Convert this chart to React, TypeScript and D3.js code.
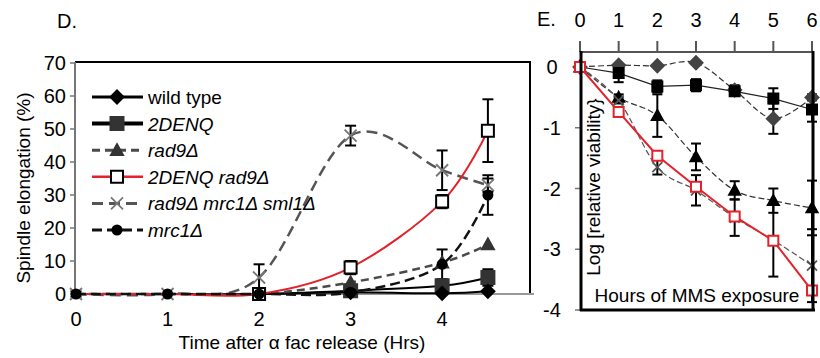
import { useEffect, useRef } from "react";
import * as d3 from "d3";

const W = 820;
const H = 358;
const FONT = "'Liberation Sans', Arial, sans-serif";

// Panel D: spindle elongation (%) after alpha factor release
const hoursD = [0, 1, 2, 3, 4, 4.5];
const wildTypeD = [0, 0, 0, 0.5, 0.2, 0.8];
const wildTypeErrD = [0, 0, 0, 0, 0, 0];
const denqD = [0, 0, 0, 1, 2.5, 5];
const denqErrD = [0, 0, 0, 0.5, 1.5, 2.5];
const rad9D = [0, 0, 0, 3.5, 9.5, 15];
const rad9ErrD = [0, 0, 0, 0, 0, 0];
const denqRad9D = [0, 0, 0, 8, 28, 49.5];
const denqRad9ErrD = [0, 0, 0, 2, 2, 9.5];
const tripleD = [0, 0, 5, 48, 37.5, 33];
const tripleErrD = [0.8, 0, 4, 3, 6, 2];
const mrc1D = [0, 0, 0, 0.5, 9, 30];
const mrc1ErrD = [0, 0, 0, 0.5, 4.5, 6];
const yTicksD = [0, 10, 20, 30, 40, 50, 60, 70];
const xTicksD = [0, 1, 2, 3, 4];

// Panel E: log relative viability vs hours of MMS exposure
const hoursE = [0, 1, 2, 3, 4, 5, 6];
const diamondE = [0, 0.03, 0.02, 0.07, -0.38, -0.85, -0.5];
const diamondErrE = [0, 0, 0, 0, 0.08, 0.25, 0.05];
const squareE = [0, -0.1, -0.32, -0.3, -0.4, -0.52, -0.7];
const squareErrE = [0, 0.15, 0.1, 0.1, 0.05, 0.17, 0.2];
const triangleE = [0, -0.5, -0.8, -1.48, -2.03, -2.2, -2.32];
const triangleErrE = [0, 0.05, 0.35, 0.22, 0.15, 0.2, 0.45];
const crossE = [0, -0.55, -1.65, -2.03, -2.48, -2.85, -3.27];
const crossErrE = [0, 0.05, 0.12, 0.25, 0.3, 0.6, 0.6];
const redE = [0, -0.74, -1.46, -1.97, -2.46, -2.86, -3.68];
const redErrE = [0, 0, 0, 0, 0, 0, 0];
const yTicksE = [0, -1, -2, -3, -4];
const xTicksE = [0, 1, 2, 3, 4, 5, 6];

type Marker = "diamond" | "square" | "triangle" | "circle" | "x";

type Series = {
  label: string;
  italic: boolean;
  values: number[];
  err: number[];
  color: string;
  width: number;
  legendWidth: number;
  dash: string | null;
  marker: Marker;
  fill: string;
  stroke: string;
  markWidth: number;
  size: number;
  smooth: boolean;
  markFrom: number;
};

const markerPath = (kind: Marker, s: number) => {
  switch (kind) {
    case "diamond":
      return `M0,${-s}L${s},0L0,${s}L${-s},0Z`;
    case "square":
      return `M${-s},${-s}H${s}V${s}H${-s}Z`;
    case "triangle":
      return `M0,${-s}L${s},${s * 0.8}L${-s},${s * 0.8}Z`;
    case "circle":
      return d3.symbol(d3.symbolCircle, Math.PI * s * s)() ?? "";
    case "x":
      return `M${-s},${-s}L${s},${s}M${-s},${s}L${s},${-s}`;
  }
};

// listed in drawing order (bottom first); legend order is separate
const seriesD: Series[] = [
  { label: "2DENQ", italic: true, values: denqD, err: denqErrD, color: "#000", width: 2, legendWidth: 4, dash: null, marker: "square", fill: "#333", stroke: "#333", markWidth: 2, size: 6.5, smooth: true, markFrom: 3 },
  { label: "wild type", italic: false, values: wildTypeD, err: wildTypeErrD, color: "#000", width: 2, legendWidth: 3, dash: null, marker: "diamond", fill: "#000", stroke: "#000", markWidth: 2, size: 6.5, smooth: true, markFrom: 3 },
  { label: "rad9Δ", italic: true, values: rad9D, err: rad9ErrD, color: "#4a4a4a", width: 2.5, legendWidth: 3, dash: "8 5", marker: "triangle", fill: "#333", stroke: "#333", markWidth: 2, size: 6, smooth: true, markFrom: 3 },
  { label: "rad9Δ mrc1Δ sml1Δ", italic: true, values: tripleD, err: tripleErrD, color: "#555", width: 2.5, legendWidth: 3, dash: "11 6", marker: "x", fill: "none", stroke: "#777", markWidth: 1.8, size: 6, smooth: true, markFrom: 0 },
  { label: "2DENQ rad9Δ", italic: true, values: denqRad9D, err: denqRad9ErrD, color: "#e3222b", width: 2, legendWidth: 2.5, dash: null, marker: "square", fill: "#fff", stroke: "#000", markWidth: 2, size: 6, smooth: true, markFrom: 2 },
  { label: "mrc1Δ", italic: true, values: mrc1D, err: mrc1ErrD, color: "#111", width: 2.5, legendWidth: 3, dash: "10 5", marker: "circle", fill: "#000", stroke: "#000", markWidth: 2, size: 4.5, smooth: true, markFrom: 0 },
];

const legendOrder = ["wild type", "2DENQ", "rad9Δ", "2DENQ rad9Δ", "rad9Δ mrc1Δ sml1Δ", "mrc1Δ"];

const seriesE: Series[] = [
  { label: "diamond", italic: false, values: diamondE, err: diamondErrE, color: "#333", width: 1.2, legendWidth: 1, dash: "6 3", marker: "diamond", fill: "#444", stroke: "#444", markWidth: 2, size: 6.5, smooth: true, markFrom: 0 },
  { label: "square", italic: false, values: squareE, err: squareErrE, color: "#222", width: 1.2, legendWidth: 1, dash: null, marker: "square", fill: "#000", stroke: "#000", markWidth: 2, size: 5, smooth: false, markFrom: 0 },
  { label: "triangle", italic: false, values: triangleE, err: triangleErrE, color: "#333", width: 1.2, legendWidth: 1, dash: "6 3", marker: "triangle", fill: "#000", stroke: "#000", markWidth: 2, size: 5.5, smooth: true, markFrom: 0 },
  { label: "cross", italic: false, values: crossE, err: crossErrE, color: "#555", width: 1.2, legendWidth: 1, dash: "6 3", marker: "x", fill: "none", stroke: "#555", markWidth: 1.8, size: 5, smooth: true, markFrom: 0 },
  { label: "red", italic: false, values: redE, err: redErrE, color: "#e3222b", width: 2, legendWidth: 2, dash: null, marker: "square", fill: "#fff", stroke: "#e3222b", markWidth: 2, size: 5, smooth: false, markFrom: 0 },
];

type G = d3.Selection<SVGGElement, unknown, null, undefined>;

function drawSeries(
  g: G,
  series: Series[],
  xs: number[],
  x: d3.ScaleLinear<number, number>,
  y: d3.ScaleLinear<number, number>,
  capHalf: number,
) {
  const lines = g.append("g");
  const errs = g.append("g");
  const marks = g.append("g");
  series.forEach((s) => {
    const line = d3
      .line<number>()
      .x((_, i) => x(xs[i]))
      .y((d) => y(d))
      .curve(s.smooth ? d3.curveCardinal.tension(0) : d3.curveLinear);
    lines
      .append("path")
      .attr("d", line(s.values))
      .attr("fill", "none")
      .attr("stroke", s.color)
      .attr("stroke-width", s.width)
      .attr("stroke-dasharray", s.dash);

    s.values.forEach((v, i) => {
      const e = s.err[i];
      if (!e) return;
      const cx = x(xs[i]);
      errs
        .append("line")
        .attr("x1", cx)
        .attr("x2", cx)
        .attr("y1", y(v + e))
        .attr("y2", y(v - e))
        .attr("stroke", "#000")
        .attr("stroke-width", 2);
      [v + e, v - e].forEach((c) =>
        errs
          .append("line")
          .attr("x1", cx - capHalf)
          .attr("x2", cx + capHalf)
          .attr("y1", y(c))
          .attr("y2", y(c))
          .attr("stroke", "#000")
          .attr("stroke-width", 2),
      );
    });

    const shown = s.values.map((v, i) => ({ v, t: xs[i] })).filter((_, i) => i >= s.markFrom);
    marks
      .selectAll(null)
      .data(shown)
      .join("path")
      .attr("transform", (d) => `translate(${x(d.t)},${y(d.v)})`)
      .attr("d", markerPath(s.marker, s.size))
      .attr("fill", s.fill)
      .attr("stroke", s.stroke)
      .attr("stroke-width", s.markWidth);
  });
}

function drawPanelD(g: G) {
  const x = d3.scaleLinear().domain([0, 4.96]).range([76, 530]);
  const y = d3.scaleLinear().domain([0, 70]).range([294, 63]);

  g.append("text").attr("x", 57).attr("y", 28).attr("font-size", 20).text("D.");

  // frame: gray axes left/bottom, black top/right
  g.append("line").attr("x1", 75).attr("x2", 531).attr("y1", 62).attr("y2", 62).attr("stroke", "#000").attr("stroke-width", 2);
  g.append("line").attr("x1", 530).attr("x2", 530).attr("y1", 62).attr("y2", 294).attr("stroke", "#000").attr("stroke-width", 2);
  g.append("line").attr("x1", 75).attr("x2", 75).attr("y1", 62).attr("y2", 294).attr("stroke", "#777").attr("stroke-width", 2);
  g.append("line").attr("x1", 75).attr("x2", 534).attr("y1", 294).attr("y2", 294).attr("stroke", "#999").attr("stroke-width", 2);

  yTicksD.forEach((t) => {
    g.append("line").attr("x1", 70).attr("x2", 75).attr("y1", y(t)).attr("y2", y(t)).attr("stroke", "#777").attr("stroke-width", 1.5);
    g.append("text").attr("x", 66).attr("y", y(t) + 7).attr("text-anchor", "end").attr("font-size", 20).text(t);
  });
  xTicksD.forEach((t) => {
    g.append("text").attr("x", x(t)).attr("y", 326).attr("text-anchor", "middle").attr("font-size", 20).text(t);
  });

  g.append("text")
    .attr("transform", "translate(30,188) rotate(-90)")
    .attr("text-anchor", "middle")
    .attr("font-size", 19)
    .text("Spindle elongation (%)");
  g.append("text")
    .attr("x", 302)
    .attr("y", 349)
    .attr("text-anchor", "middle")
    .attr("font-size", 19)
    .text("Time after α fac release (Hrs)");

  drawSeries(g, seriesD, hoursD, x, y, 5.5);

  // legend
  const legend = g.append("g");
  legendOrder.forEach((name, i) => {
    const s = seriesD.find((d) => d.label === name)!;
    const ly = 97 + i * 26.6;
    const row = legend.append("g").attr("transform", `translate(0,${ly})`);
    row.append("line").attr("x1", 92).attr("x2", 143).attr("y1", 0).attr("y2", 0).attr("stroke", s.color).attr("stroke-width", s.legendWidth).attr("stroke-dasharray", s.dash);
    row.append("path").attr("transform", "translate(117,0)").attr("d", markerPath(s.marker, s.size)).attr("fill", s.fill).attr("stroke", s.stroke).attr("stroke-width", s.markWidth);
    row.append("text").attr("x", 148).attr("y", 7).attr("font-size", 19).attr("font-style", s.italic ? "italic" : "normal").text(s.label);
  });
}

function drawPanelE(g: G) {
  const x = d3.scaleLinear().domain([0, 6]).range([580, 812]);
  const y = d3.scaleLinear().domain([-4, 0]).range([310, 67]);

  g.append("text").attr("x", 537).attr("y", 26).attr("font-size", 20).text("E.");

  // top axis with upward ticks
  g.append("line").attr("x1", 580).attr("x2", 813).attr("y1", 52).attr("y2", 52).attr("stroke", "#555").attr("stroke-width", 2);
  xTicksE.forEach((t) => {
    g.append("line").attr("x1", x(t)).attr("x2", x(t)).attr("y1", 52).attr("y2", 41).attr("stroke", "#555").attr("stroke-width", 2);
    g.append("text").attr("x", x(t)).attr("y", 27).attr("text-anchor", "middle").attr("font-size", 20).text(t);
  });
  yTicksE.forEach((t) => {
    g.append("line").attr("x1", 575).attr("x2", 581).attr("y1", y(t)).attr("y2", y(t)).attr("stroke", "#777").attr("stroke-width", 1.5);
    g.append("text").attr("x", 552).attr("y", y(t) + 7).attr("text-anchor", "middle").attr("font-size", 20).text(t);
  });

  g.append("text")
    .attr("transform", "translate(600,187) rotate(-90)")
    .attr("text-anchor", "middle")
    .attr("font-size", 19)
    .text("Log [relative viability}");
  g.append("text")
    .attr("x", 697)
    .attr("y", 302)
    .attr("text-anchor", "middle")
    .attr("font-size", 19)
    .text("Hours of MMS exposure");

  drawSeries(g, seriesE, hoursE, x, y, 5);

  // heavy frame: left, bottom, right
  g.append("line").attr("x1", 581).attr("x2", 581).attr("y1", 51).attr("y2", 311).attr("stroke", "#000").attr("stroke-width", 3);
  g.append("line").attr("x1", 580).attr("x2", 815).attr("y1", 310).attr("y2", 310).attr("stroke", "#000").attr("stroke-width", 3);
  g.append("line").attr("x1", 813).attr("x2", 813).attr("y1", 51).attr("y2", 311).attr("stroke", "#000").attr("stroke-width", 3);
}

export default function App() {
  const ref = useRef<SVGSVGElement | null>(null);

  useEffect(() => {
    document.body.style.margin = "0";
    const el = ref.current;
    if (!el) return;
    const svg = d3.select(el);
    svg.selectAll("*").remove();
    drawPanelD(svg.append("g"));
    drawPanelE(svg.append("g"));
  }, []);

  return (
    <svg
      ref={ref}
      width={W}
      height={H}
      viewBox={`0 0 ${W} ${H}`}
      style={{ display: "block", background: "#fff", fontFamily: FONT }}
    />
  );
}
